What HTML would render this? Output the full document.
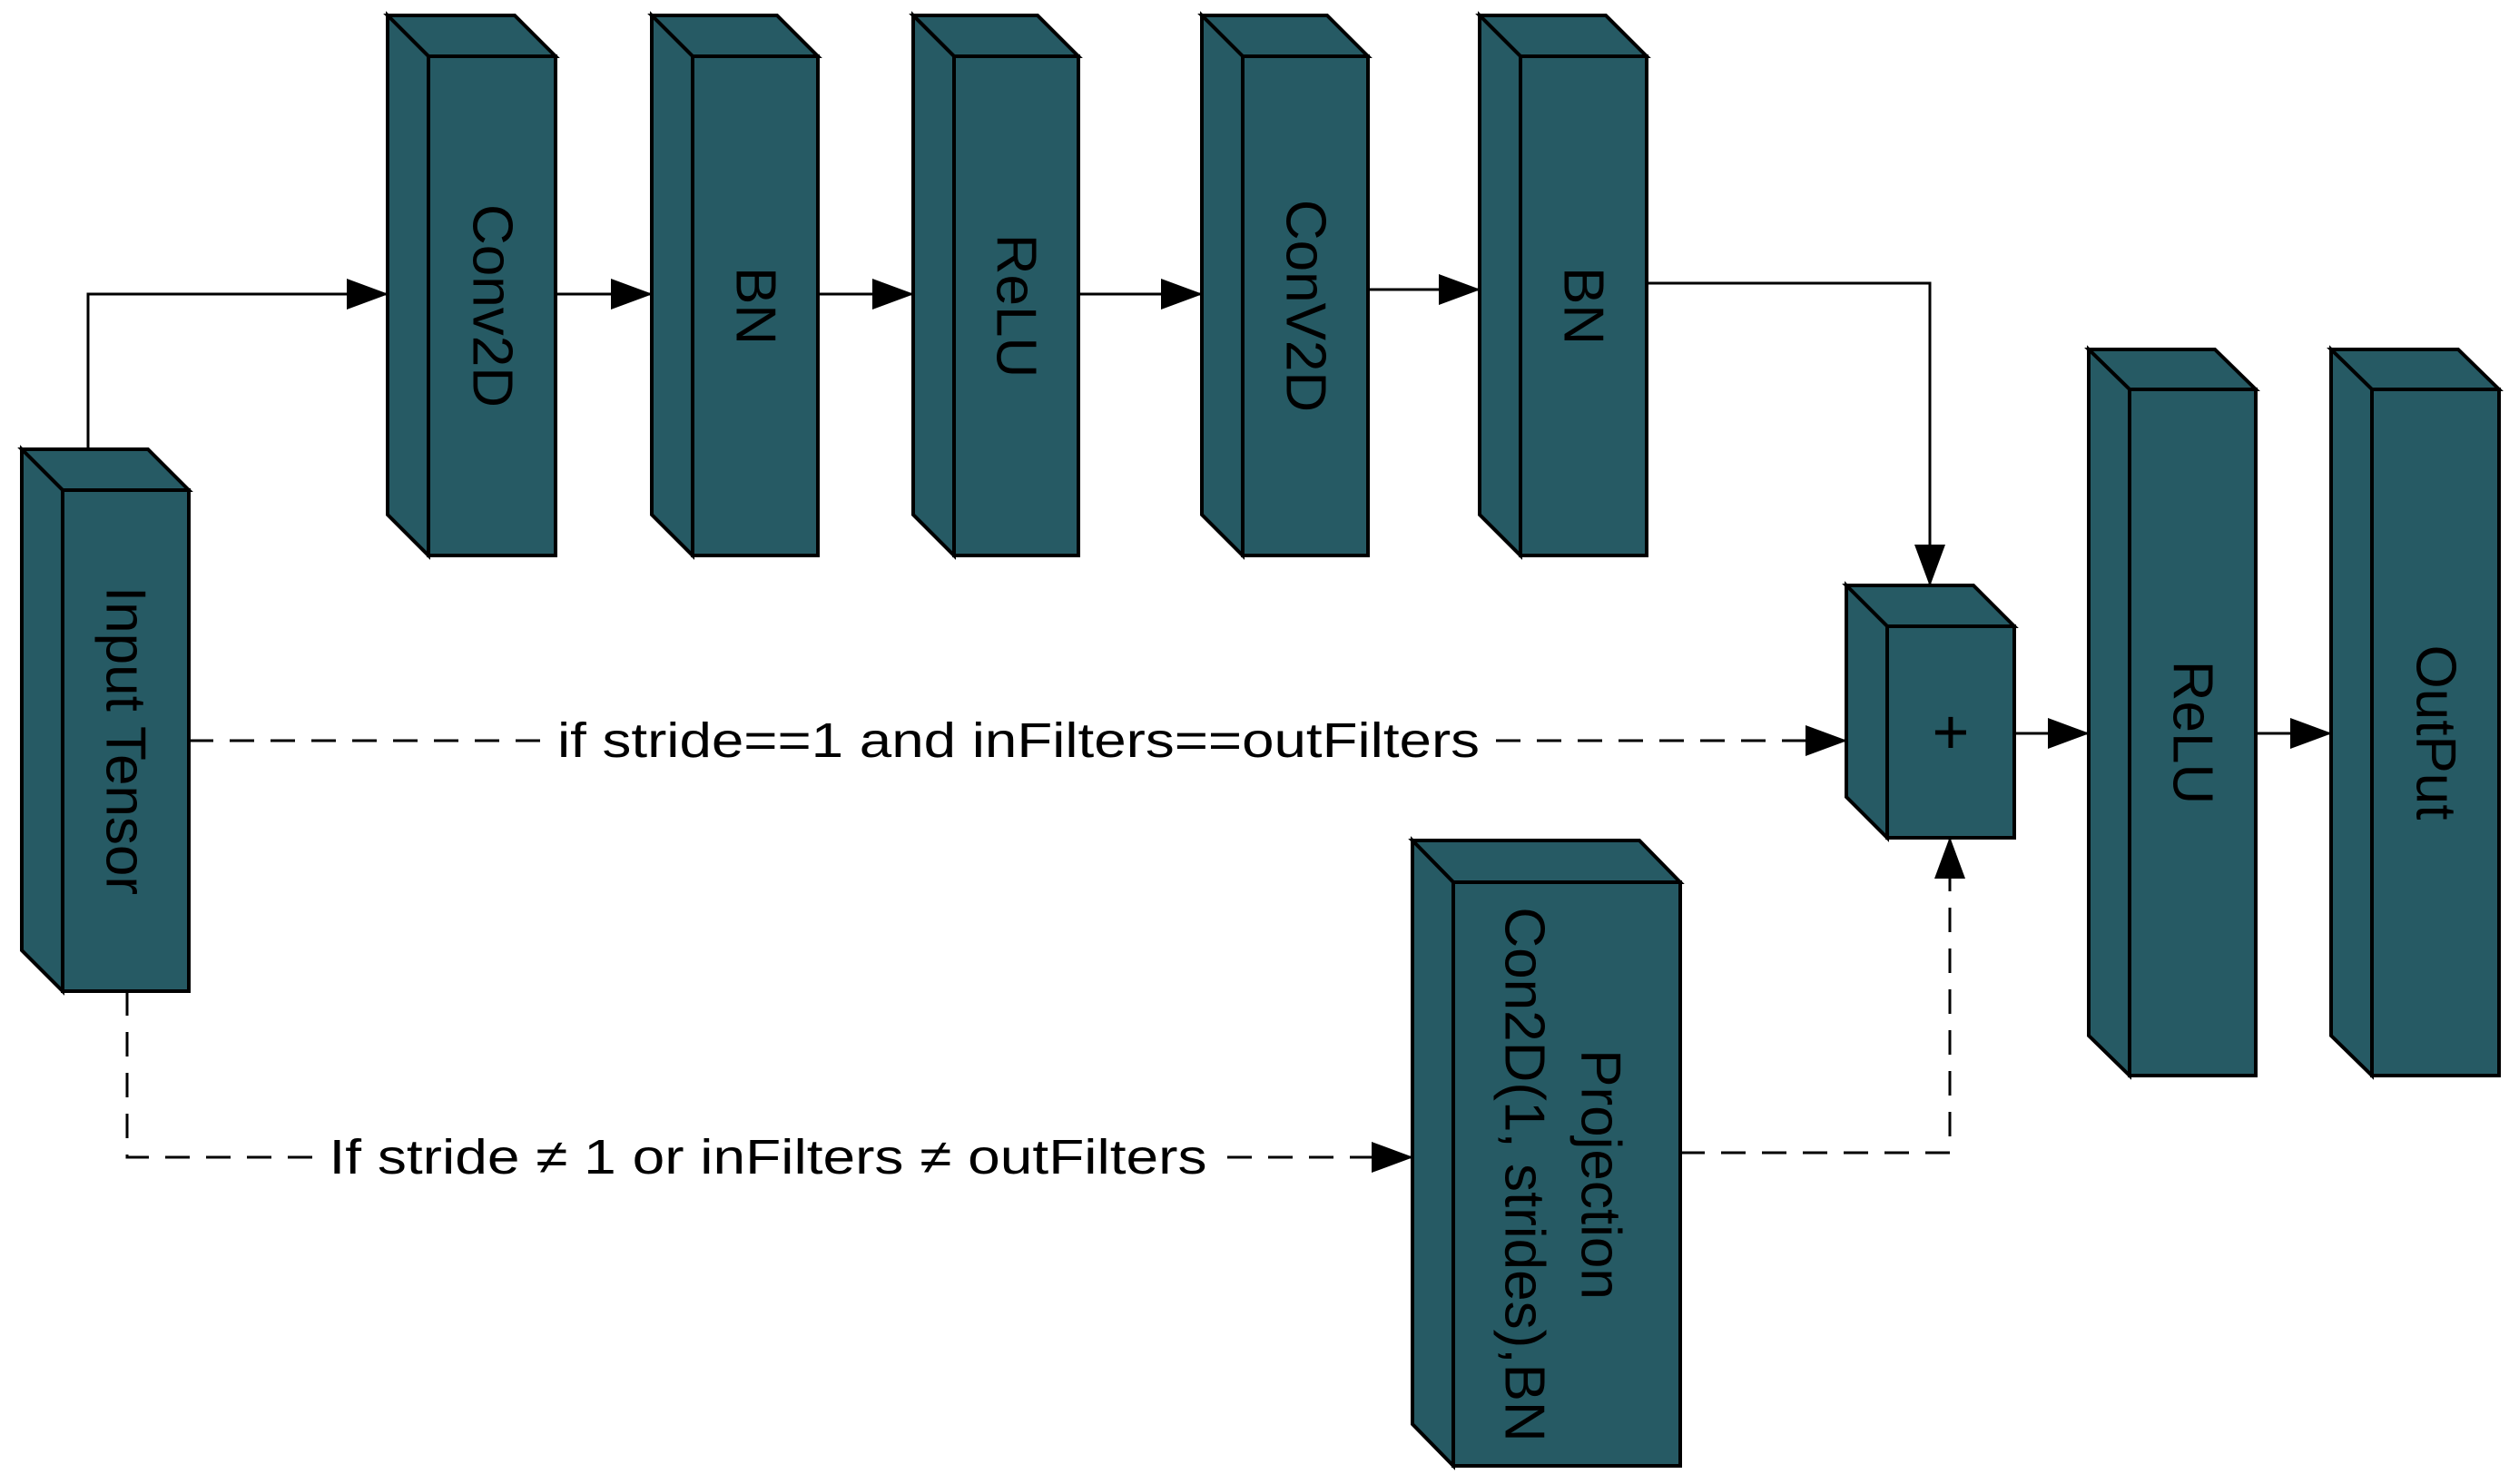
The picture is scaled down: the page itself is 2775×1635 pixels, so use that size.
<!DOCTYPE html>
<html><head><meta charset="utf-8"><style>
html,body{margin:0;padding:0;background:#fff;}
svg{display:block;}
text{font-family:"Liberation Sans",sans-serif;fill:#000;}
</style></head><body>
<svg width="2775" height="1635" viewBox="0 0 2775 1635" xmlns="http://www.w3.org/2000/svg">
<defs>
<marker id="ah" markerWidth="46" markerHeight="34" refX="45" refY="17" orient="auto" markerUnits="userSpaceOnUse">
<path d="M0,0 L46,17 L0,34 Z" fill="#000"/>
</marker>
</defs>
<g stroke="#000" stroke-width="4" stroke-linejoin="miter" fill="#265A64">
<polygon points="24,495 163,495 208,540 69,540"/><polygon points="24,495 69,540 69,1092 24,1047"/><rect x="69" y="540" width="139" height="552"/>
<polygon points="427,17 567,17 612,62 472,62"/><polygon points="427,17 472,62 472,612 427,567"/><rect x="472" y="62" width="140" height="550"/>
<polygon points="718,17 856,17 901,62 763,62"/><polygon points="718,17 763,62 763,612 718,567"/><rect x="763" y="62" width="138" height="550"/>
<polygon points="1006,17 1143,17 1188,62 1051,62"/><polygon points="1006,17 1051,62 1051,612 1006,567"/><rect x="1051" y="62" width="137" height="550"/>
<polygon points="1324,17 1462,17 1507,62 1369,62"/><polygon points="1324,17 1369,62 1369,612 1324,567"/><rect x="1369" y="62" width="138" height="550"/>
<polygon points="1630,17 1769,17 1814,62 1675,62"/><polygon points="1630,17 1675,62 1675,612 1630,567"/><rect x="1675" y="62" width="139" height="550"/>
<polygon points="2034,645 2174,645 2219,690 2079,690"/><polygon points="2034,645 2079,690 2079,923 2034,878"/><rect x="2079" y="690" width="140" height="233"/>
<polygon points="2301,385 2440,385 2485,429 2346,429"/><polygon points="2301,385 2346,429 2346,1185 2301,1141"/><rect x="2346" y="429" width="139" height="756"/>
<polygon points="2568,385 2708,385 2753,429 2613,429"/><polygon points="2568,385 2613,429 2613,1185 2568,1141"/><rect x="2613" y="429" width="140" height="756"/>
<polygon points="1556,926 1806,926 1851,972 1601,972"/><polygon points="1556,926 1601,972 1601,1615 1556,1569"/><rect x="1601" y="972" width="250" height="643"/>
</g>
<g stroke="#000" stroke-width="3" fill="none">
<polyline points="97,495 97,324 427,324" marker-end="url(#ah)"/>
<line x1="612" y1="324" x2="718" y2="324" marker-end="url(#ah)"/>
<line x1="901" y1="324" x2="1006" y2="324" marker-end="url(#ah)"/>
<line x1="1188" y1="324" x2="1324" y2="324" marker-end="url(#ah)"/>
<line x1="1507" y1="319" x2="1630" y2="319" marker-end="url(#ah)"/>
<polyline points="1814,312 2126,312 2126,645" marker-end="url(#ah)"/>
<line x1="2219" y1="808" x2="2301" y2="808" marker-end="url(#ah)"/>
<line x1="2485" y1="808" x2="2568" y2="808" marker-end="url(#ah)"/>
<g stroke-dasharray="27,18">
<line x1="208" y1="816" x2="2034" y2="816" marker-end="url(#ah)"/>
<polyline points="140,1092 140,1275 1556,1275" marker-end="url(#ah)"/>
<polyline points="1851,1270 2148,1270 2148,923" marker-end="url(#ah)"/>
</g>
</g>
<rect x="605" y="785" width="1030" height="62" fill="#fff"/>
<text x="1122" y="816" font-size="54" text-anchor="middle" dominant-baseline="central" textLength="1016" lengthAdjust="spacingAndGlyphs">if stride==1 and inFilters==outFilters</text>
<rect x="355" y="1244" width="985" height="62" fill="#fff"/>
<text x="846" y="1275" font-size="54" text-anchor="middle" dominant-baseline="central" textLength="967" lengthAdjust="spacingAndGlyphs">If stride ≠ 1 or inFilters ≠ outFilters</text>
<g font-size="62" text-anchor="middle" dominant-baseline="central">
<text transform="translate(138,816) rotate(90)">Input Tensor</text>
<text transform="translate(542,337) rotate(90)">Conv2D</text>
<text transform="translate(832,337) rotate(90)">BN</text>
<text transform="translate(1119,337) rotate(90)">ReLU</text>
<text transform="translate(1438,337) rotate(90)">ConV2D</text>
<text transform="translate(1744,337) rotate(90)">BN</text>
<text x="2149" y="806" font-size="70">+</text>
<text transform="translate(2415,807) rotate(90)">ReLU</text>
<text transform="translate(2683,807) rotate(90)">OutPut</text>
<text transform="translate(1763,1294) rotate(90)">Projection</text>
<text transform="translate(1679,1294) rotate(90)">Con2D(1, strides),BN</text>
</g>
</svg>
</body></html>
